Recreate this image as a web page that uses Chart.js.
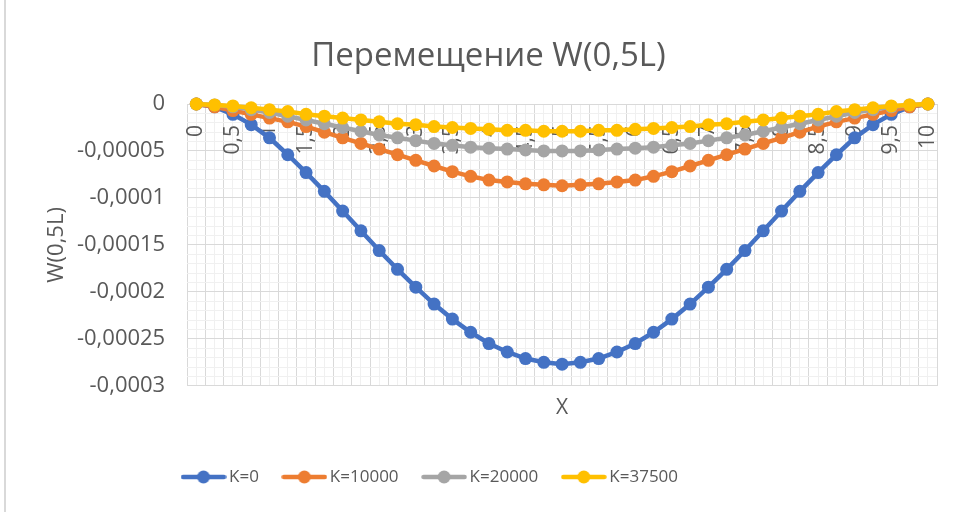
<!DOCTYPE html>
<html><head><meta charset="utf-8">
<script src="https://cdn.jsdelivr.net/npm/chart.js@4.4.0/dist/chart.umd.min.js"></script>
<style>
html,body{margin:0;padding:0;background:#fff;}
#wrap{position:relative;width:964px;height:512px;}
#edge{position:absolute;left:4px;top:0;width:2px;height:512px;background:#d9d9d9;}
canvas{display:block;position:absolute;left:0;top:0;}
</style></head><body>
<div id="wrap"><canvas id="c" width="964" height="512"></canvas><div id="edge"></div></div>
<script>
const titleText = 'Перемещение W(0,5L)';
const xTitle = 'X';
const yTitle = 'W(0,5L)';
const seriesNames = ['K=0', 'K=10000', 'K=20000', 'K=37500'];
const seriesColors = ['#4472C4', '#ED7D31', '#A5A5A5', '#FFC000'];

const xValues = [0,0.25,0.5,0.75,1,1.25,1.5,1.75,2,2.25,2.5,2.75,3,3.25,3.5,3.75,4,4.25,4.5,4.75,5,
  5.25,5.5,5.75,6,6.25,6.5,6.75,7,7.25,7.5,7.75,8,8.25,8.5,8.75,9,9.25,9.5,9.75,10];
const xLabelValues = [0,0.5,1,1.5,2,2.5,3,3.5,4,4.5,5,5.5,6,6.5,7,7.5,8,8.5,9,9.5,10];
const yMajorTicks = [0,-0.00005,-0.0001,-0.00015,-0.0002,-0.00025,-0.0003];

const wK0 = [0,-0.000003,-0.000011,-0.000022,-0.000036,-0.000054,-0.000073,-0.000093,-0.000114,-0.000135,-0.000156,
  -0.000176,-0.000195,-0.000213,-0.000229,-0.000243,-0.000255,-0.000264,-0.000271,-0.000275,-0.000277,
  -0.000275,-0.000271,-0.000264,-0.000255,-0.000243,-0.000229,-0.000213,-0.000195,-0.000176,-0.000156,
  -0.000135,-0.000114,-0.000093,-0.000073,-0.000054,-0.000036,-0.000022,-0.000011,-0.000003,0];
const wK10000 = [0,-0.000003,-0.000007,-0.000011,-0.000015,-0.000019,-0.000024,-0.000030,-0.000036,-0.000042,-0.000048,
  -0.000054,-0.000060,-0.000066,-0.000072,-0.000077,-0.000081,-0.000083,-0.000085,-0.000086,-0.000087,
  -0.000086,-0.000085,-0.000083,-0.000081,-0.000077,-0.000072,-0.000066,-0.000060,-0.000054,-0.000048,
  -0.000042,-0.000036,-0.000030,-0.000024,-0.000019,-0.000015,-0.000011,-0.000007,-0.000003,0];
const wK20000 = [0,-0.000001,-0.000003,-0.000006,-0.000009,-0.000013,-0.000017,-0.000021,-0.000025,-0.000029,-0.000033,
  -0.000036,-0.000039,-0.000042,-0.000044,-0.000046,-0.000047,-0.000048,-0.000049,-0.000050,-0.000050,
  -0.000050,-0.000049,-0.000048,-0.000047,-0.000046,-0.000044,-0.000042,-0.000039,-0.000036,-0.000033,
  -0.000029,-0.000025,-0.000021,-0.000017,-0.000013,-0.000009,-0.000006,-0.000003,-0.000001,0];
const wK37500 = [0,-0.000001,-0.000002,-0.000004,-0.000006,-0.000008,-0.000011,-0.000013,-0.000015,-0.000017,-0.000019,
  -0.000021,-0.000022,-0.000024,-0.000025,-0.000026,-0.000027,-0.000028,-0.000028,-0.000029,-0.000029,
  -0.000029,-0.000028,-0.000028,-0.000027,-0.000026,-0.000025,-0.000024,-0.000022,-0.000021,-0.000019,
  -0.000017,-0.000015,-0.000013,-0.000011,-0.000008,-0.000006,-0.000004,-0.000002,-0.000001,0];
const seriesValues = [wK0, wK10000, wK20000, wK37500];

const TXT = '#595959';
const FONT = 'Open Sans';
const yMinorStep = 0.00001;
const xHalfStep = 0.125;

const yGrid = [];
for (let i = 0; i <= 30; i++) yGrid.push(-i * yMinorStep);
const xGrid = [];
for (let i = -1; i <= 81; i++) xGrid.push(i * xHalfStep);

const isYMajor = v => yMajorTicks.some(t => Math.abs(t - v) < 1e-9);
const isXMajor = v => Math.abs(Math.round(v / 0.25) * 0.25 - v) > 1e-6;
const fmt = v => String(Number(v.toPrecision(6))).replace('.', ',');

function makeSymbol(color) {
  const c = document.createElement('canvas');
  c.width = 46; c.height = 16;
  const g = c.getContext('2d');
  g.strokeStyle = color; g.lineWidth = 4.5; g.lineCap = 'round';
  g.beginPath(); g.moveTo(2.5, 8); g.lineTo(43.5, 8); g.stroke();
  g.fillStyle = color;
  g.beginPath(); g.arc(23, 8, 6.5, 0, Math.PI * 2); g.fill();
  return c;
}
const symbols = seriesColors.map(makeSymbol);

const datasets = seriesValues.map((vals, i) => ({
  label: seriesNames[i],
  data: xValues.map((x, j) => ({x: x, y: vals[j]})),
  borderColor: seriesColors[i],
  backgroundColor: seriesColors[i],
  pointBackgroundColor: seriesColors[i],
  pointBorderColor: seriesColors[i],
  pointBorderWidth: 0,
  pointRadius: 6.5,
  borderWidth: 4.5,
  tension: 0,
  clip: false,
  order: 4 - i
}));

const legendShift = {
  id: 'legendShift',
  afterLayout(chart) {
    if (chart.legend) {
      const w = chart.legend.right - chart.legend.left;
      chart.legend.left = 158;
      chart.legend.right = 158 + w;
    }
  }
};

new Chart(document.getElementById('c'), {
  type: 'line',
  data: { datasets: datasets },
  plugins: [legendShift],
  options: {
    responsive: false,
    animation: false,
    events: [],
    layout: { padding: { left: 40, right: 27, top: 0, bottom: 16.5 } },
    plugins: {
      tooltip: { enabled: false },
      title: {
        display: true, text: titleText, color: TXT,
        font: { family: FONT, size: 33, weight: 'normal', lineHeight: 1.2 },
        padding: { top: 37.2, bottom: 27.2 }
      },
      legend: {
        position: 'bottom', align: 'start',
        labels: {
          usePointStyle: true, pointStyleWidth: 34, boxHeight: 16,
          color: TXT, padding: 28.5,
          font: { family: FONT, size: 17 },
          generateLabels: chart => chart.data.datasets.map((d, i) => ({
            text: d.label, pointStyle: symbols[i], fillStyle: d.borderColor,
            strokeStyle: d.borderColor, lineWidth: 0, hidden: false, datasetIndex: i, fontColor: TXT
          }))
        }
      }
    },
    scales: {
      x: {
        type: 'linear', position: 'bottom', min: -0.125, max: 10.125,
        afterBuildTicks: s => { s.ticks = xGrid.map(v => ({value: v})); },
        ticks: { display: false, autoSkip: false },
        grid: { color: c => isXMajor(c.tick.value) ? '#d9d9d9' : '#f0f0f0', lineWidth: 1, drawTicks: false },
        border: { display: false },
        title: { display: true, text: xTitle, color: TXT, font: { family: FONT, size: 21, lineHeight: 1.2 },
                 padding: { top: 10, bottom: 19 } }
      },
      x2: {
        type: 'linear', position: { y: 0 }, min: -0.125, max: 10.125,
        afterBuildTicks: s => { s.ticks = xLabelValues.map(v => ({value: v})); },
        afterFit: s => { s.height = 0; s.paddingLeft = 0; s.paddingRight = 0; },
        ticks: { autoSkip: false, minRotation: 90, maxRotation: 90, padding: 21, color: TXT,
                 font: { family: FONT, size: 21 }, callback: v => fmt(v) },
        grid: { display: false, drawTicks: false },
        border: { display: false }
      },
      y: {
        type: 'linear', min: -0.0003, max: 0,
        afterBuildTicks: s => { s.ticks = yGrid.map(v => ({value: v})); },
        afterFit: s => { s.width = 147.2; },
        ticks: { autoSkip: false, padding: 22, color: TXT, font: { family: FONT, size: 22 },
                 callback: v => isYMajor(v) ? fmt(v) : '' },
        grid: { color: c => isYMajor(c.tick.value) ? '#d9d9d9' : '#f0f0f0', lineWidth: 1, drawTicks: false },
        border: { display: false },
        title: { display: true, text: yTitle, color: TXT, font: { family: FONT, size: 22, lineHeight: 1.2 },
                 padding: { top: 4, bottom: 11 } }
      }
    }
  }
});
</script>
</body></html>
